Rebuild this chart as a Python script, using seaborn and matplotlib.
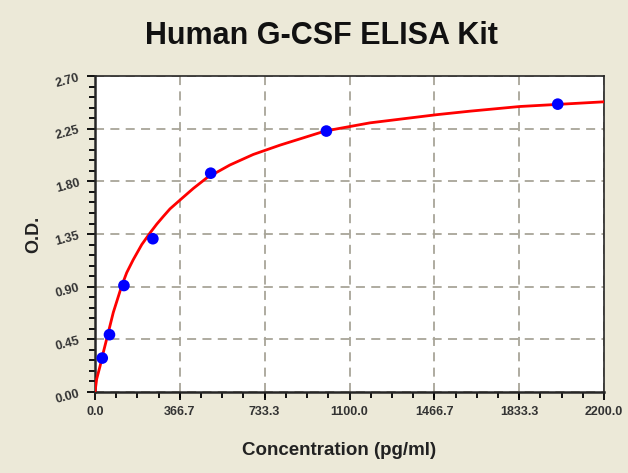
import numpy as np
import pandas as pd
import matplotlib
matplotlib.use('Agg')
import matplotlib.pyplot as plt
from matplotlib.ticker import MultipleLocator, FixedLocator
import seaborn as sns

# standard points (concentration pg/ml, O.D.)
conc = [31.25, 62.5, 125, 250, 500, 1000, 2000]
od = [0.29, 0.49, 0.91, 1.31, 1.87, 2.23, 2.46]

# fitted curve
curve_x = [0, 7, 21.6, 36, 50, 79, 115, 137, 165, 202, 238, 267, 295, 324,
           367, 425, 483, 583, 684, 800, 994, 1188, 1477, 1621, 1837, 2200]
curve_y = [0, 0.11, 0.22, 0.34, 0.45, 0.68, 0.905, 1.02, 1.13, 1.26, 1.36,
           1.435, 1.50, 1.565, 1.64, 1.74, 1.83, 1.94, 2.03, 2.11, 2.23, 2.30,
           2.37, 2.40, 2.44, 2.48]

x_ticks = [0.0, 366.7, 733.3, 1100.0, 1466.7, 1833.3, 2200.0]
y_ticks = [0.00, 0.45, 0.90, 1.35, 1.80, 2.25, 2.70]

pts = pd.DataFrame({'conc': conc, 'od': od})
fit = pd.DataFrame({'x': curve_x, 'y': curve_y})

sns.set_style('ticks')
plt.rcParams['font.family'] = ['Liberation Sans', 'DejaVu Sans']

bg = '#ECE9D8'
fig = plt.figure(figsize=(6.28, 4.73), dpi=100, facecolor=bg)
ax = fig.add_axes([0.1513, 0.1712, 0.8105, 0.668])
ax.set_facecolor('white')

sns.lineplot(data=fit, x='x', y='y', sort=False, color='#FF0000', lw=2,
             ax=ax, zorder=3)
sns.scatterplot(data=pts, x='conc', y='od', color='#0000FF', s=70,
                edgecolor='none', ax=ax, zorder=4)

ax.set_xlim(0, 2200)
ax.set_ylim(0, 2.70)
ax.xaxis.set_major_locator(FixedLocator(x_ticks))
ax.xaxis.set_minor_locator(MultipleLocator(2200 / 24))
ax.yaxis.set_major_locator(FixedLocator(y_ticks))
ax.yaxis.set_minor_locator(MultipleLocator(0.09))
ax.set_xticklabels([f'{v:.1f}' for v in x_ticks], fontsize=9,
                   fontweight='bold', color='#333333')
ax.set_yticklabels([f'{v:.2f}' for v in y_ticks], fontsize=9,
                   fontweight='bold', color='#333333', rotation=15)
ax.tick_params(which='major', length=6, width=1.3, color='black', pad=4)
ax.tick_params(which='minor', length=4, width=1.3, color='black')

ax.grid(True, which='major', color='#A8A598', linestyle=(0, (5, 3.5)), lw=1.3)
ax.set_axisbelow(True)
for side in ['left', 'bottom']:
    ax.spines[side].set_linewidth(1.8)
for side in ['right', 'top']:
    ax.spines[side].set_linewidth(1.2)

ax.set_xlabel('Concentration (pg/ml)', fontsize=13.5, fontweight='bold',
              color='#222222')
ax.xaxis.set_label_coords(0.479, -0.158)
ax.set_ylabel('O.D.', fontsize=13, fontweight='bold', color='#222222')
ax.yaxis.set_label_coords(-0.104, 0.5)
fig.text(0.512, 0.924, 'Human G-CSF ELISA Kit', ha='center', va='center',
         fontsize=22, fontweight='bold', color='#111111')

fig.savefig('out.png', dpi=100, facecolor=bg)
